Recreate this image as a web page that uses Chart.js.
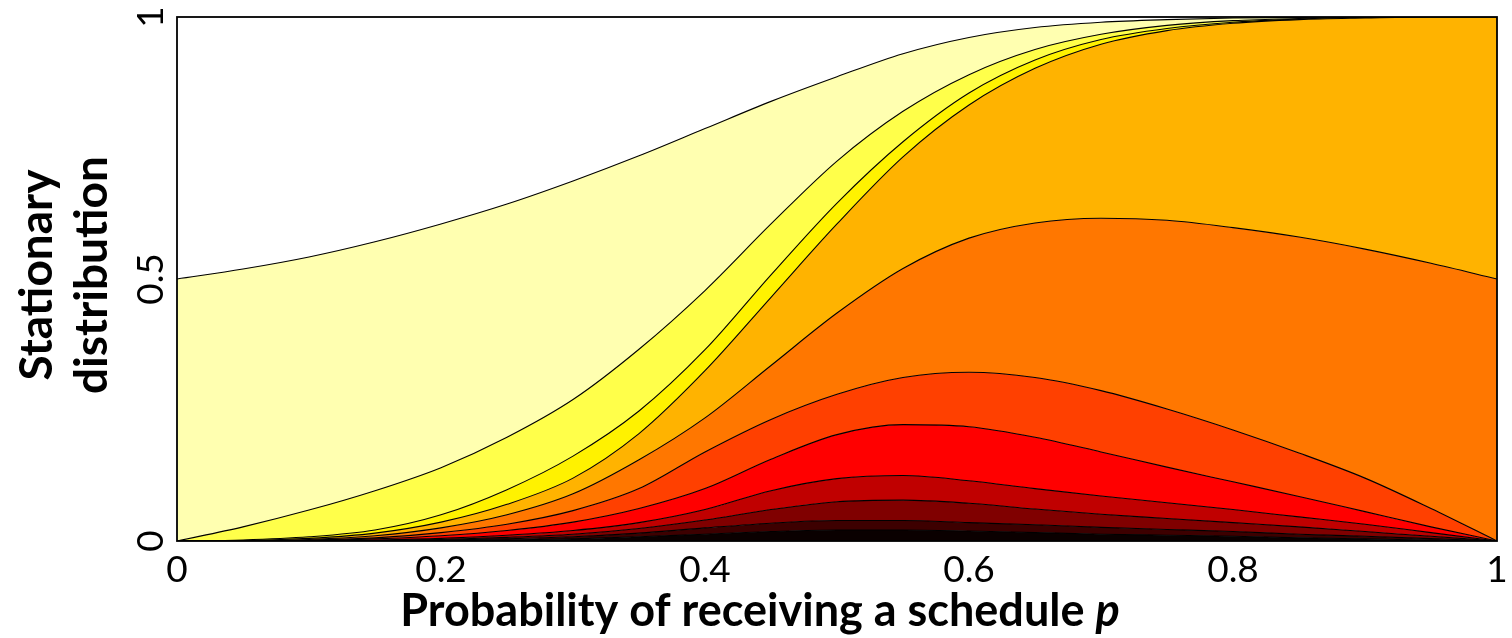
<!DOCTYPE html>
<html>
<head>
<meta charset="utf-8">
<title>Stationary distribution</title>
<script src="https://cdn.jsdelivr.net/npm/chart.js@4.4.1/dist/chart.umd.min.js"></script>
<style>
    html, body { margin: 0; padding: 0; background: #ffffff; }
</style>
</head>
<body>
<canvas id="stackChart" width="1512" height="638"></canvas>
<script>
// p values (x axis)
const pValues = [0, 0.05, 0.1, 0.15, 0.2, 0.25, 0.3, 0.35, 0.4, 0.45, 0.5,
                 0.55, 0.6, 0.65, 0.7, 0.75, 0.8, 0.85, 0.9, 0.95, 1];

// cumulative boundaries, bottom (b0) to top (b10)
const b0  = [0, 0, 0, 0.0002, 0.001, 0.002, 0.004, 0.008, 0.013, 0.018, 0.021, 0.021, 0.019, 0.016, 0.013, 0.011, 0.009, 0.006, 0.004, 0.002, 0];
const b1  = [0, 0, 0.0001, 0.0005, 0.002, 0.004, 0.008, 0.015, 0.025, 0.034, 0.039, 0.039, 0.035, 0.031, 0.026, 0.022, 0.018, 0.013, 0.009, 0.0045, 0];
const b2  = [0, 0, 0.0003, 0.001, 0.003, 0.007, 0.013, 0.024, 0.040, 0.060, 0.075, 0.078, 0.072, 0.061, 0.051, 0.043, 0.035, 0.027, 0.018, 0.009, 0];
const b3  = [0, 0.0001, 0.0005, 0.002, 0.005, 0.011, 0.020, 0.035, 0.060, 0.096, 0.119, 0.125, 0.115, 0.100, 0.086, 0.073, 0.060, 0.046, 0.032, 0.016, 0];
const b4  = [0, 0.0002, 0.001, 0.004, 0.010, 0.020, 0.036, 0.062, 0.100, 0.156, 0.203, 0.222, 0.218, 0.198, 0.170, 0.141, 0.113, 0.085, 0.056, 0.027, 0];
const b5  = [0, 0.0003, 0.002, 0.006, 0.016, 0.032, 0.058, 0.100, 0.170, 0.232, 0.280, 0.312, 0.322, 0.312, 0.287, 0.252, 0.212, 0.168, 0.120, 0.062, 0];
const b6  = [0, 0.0005, 0.003, 0.010, 0.025, 0.050, 0.090, 0.155, 0.235, 0.335, 0.435, 0.520, 0.578, 0.607, 0.616, 0.612, 0.598, 0.580, 0.557, 0.530, 0.5];
const b7  = [0, 0.001, 0.005, 0.015, 0.036, 0.070, 0.120, 0.205, 0.325, 0.465, 0.605, 0.733, 0.832, 0.902, 0.948, 0.974, 0.988, 0.995, 0.998, 1, 1];
const b8  = [0, 0.002, 0.008, 0.021, 0.050, 0.098, 0.162, 0.248, 0.365, 0.508, 0.645, 0.762, 0.855, 0.918, 0.957, 0.978, 0.990, 0.996, 0.999, 1, 1];
const b9  = [0, 0.027, 0.059, 0.096, 0.140, 0.198, 0.270, 0.366, 0.478, 0.605, 0.725, 0.820, 0.890, 0.938, 0.967, 0.984, 0.993, 0.997, 0.999, 1, 1];
const b10 = [0.5, 0.519, 0.542, 0.571, 0.605, 0.643, 0.687, 0.735, 0.787, 0.839, 0.886, 0.930, 0.961, 0.980, 0.990, 0.995, 0.998, 0.999, 1, 1, 1];

const boundaries = [b0, b1, b2, b3, b4, b5, b6, b7, b8, b9, b10];

// fill colour of the band under each boundary
const layerColors = ['#0a0000', '#3d0000', '#800000', '#c00000', '#ff0000', '#ff4000',
                     '#ff7700', '#ffb300', '#fff200', '#ffff4a', '#ffffb0'];

const xTicks = [0, 0.2, 0.4, 0.6, 0.8, 1];
const xTickLabels = ['0', '0.2', '0.4', '0.6', '0.8', '1'];
const yTicks = [0, 0.5, 1];
const yTickLabels = ['0', '0.5', '1'];

const xTitle = 'Probability of receiving a schedule ';
const xTitleVar = 'p';
const yTitle = ['Stationary', 'distribution'];

const FONT = 'Lato, "Open Sans", sans-serif';

// draws the frame, tick labels and axis titles
const axisText = {
    id: 'axisText',
    afterDraw(chart) {
        const ctx = chart.ctx;
        const area = chart.chartArea;
        const xs = chart.scales.x;
        const ys = chart.scales.y;
        ctx.save();

        ctx.strokeStyle = '#000';
        ctx.lineWidth = 1.8;
        ctx.strokeRect(area.left, area.top, area.right - area.left, area.bottom - area.top);

        ctx.fillStyle = '#000';
        ctx.font = '37px ' + FONT;
        ctx.textAlign = 'center';
        ctx.textBaseline = 'middle';
        xTicks.forEach((v, i) => {
            ctx.fillText(xTickLabels[i], xs.getPixelForValue(v), 570);
        });

        yTicks.forEach((v, i) => {
            ctx.save();
            ctx.translate(151, ys.getPixelForValue(v));
            ctx.rotate(-Math.PI / 2);
            ctx.fillText(yTickLabels[i], 0, 0);
            ctx.restore();
        });

        // y title, two rotated lines
        ctx.font = 'bold 46px ' + FONT;
        const yMid = (area.top + area.bottom) / 2 - 4;
        [37, 92].forEach((x, i) => {
            ctx.save();
            ctx.translate(x, yMid);
            ctx.rotate(-Math.PI / 2);
            ctx.fillText(yTitle[i], 0, 0);
            ctx.restore();
        });

        // x title with italic p
        ctx.textBaseline = 'alphabetic';
        ctx.textAlign = 'left';
        ctx.font = 'bold 45px ' + FONT;
        const w1 = ctx.measureText(xTitle).width;
        ctx.font = 'italic bold 45px ' + FONT;
        const w2 = ctx.measureText(xTitleVar).width;
        const startX = 760 - (w1 + w2) / 2;
        ctx.font = 'bold 45px ' + FONT;
        ctx.fillText(xTitle, startX, 626);
        ctx.font = 'italic bold 45px ' + FONT;
        ctx.fillText(xTitleVar, startX + w1, 626);

        ctx.restore();
    }
};

function buildDatasets() {
    return boundaries.map((series, i) => ({
        data: pValues.map((p, j) => ({ x: p, y: series[j] })),
        backgroundColor: layerColors[i],
        borderColor: '#000000',
        borderWidth: 1.1,
        pointRadius: 0,
        cubicInterpolationMode: 'monotone',
        fill: i === 0 ? 'origin' : '-1'
    }));
}

new Chart(document.getElementById('stackChart'), {
    type: 'line',
    data: { datasets: buildDatasets() },
    options: {
        responsive: false,
        animation: false,
        layout: { padding: { left: 177, right: 15, top: 17, bottom: 97 } },
        plugins: {
            legend: { display: false },
            tooltip: { enabled: false }
        },
        scales: {
            x: { type: 'linear', min: 0, max: 1, display: false },
            y: { type: 'linear', min: 0, max: 1, display: false }
        }
    },
    plugins: [axisText]
});
</script>
</body>
</html>
